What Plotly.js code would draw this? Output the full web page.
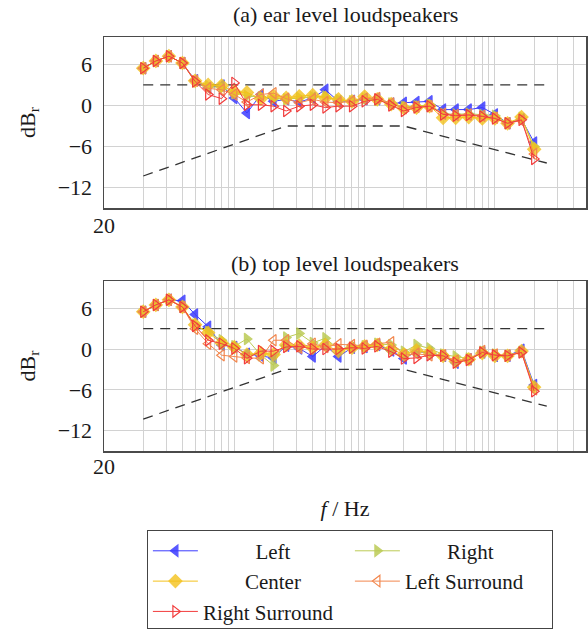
<!DOCTYPE html>
<html>
<head>
<meta charset="utf-8">
<script src="https://cdn.plot.ly/plotly-3.0.1.min.js"></script>
<style>
  html, body { margin: 0; padding: 0; background: #ffffff; }
  #chart { width: 588px; height: 631px; }
</style>
</head>
<body>
<div id="chart"></div>
<script>
// ---- data ----
const freqs = [20, 25, 31.5, 40, 50, 63, 80, 100, 125, 160, 200, 250, 315, 400, 500, 630, 800, 1000, 1250, 1600, 2000, 2500, 3150, 4000, 5000, 6300, 8000, 10000, 12500, 16000, 20000];

const seriesNames = ['Left', 'Right', 'Center', 'Left Surround', 'Right Surround'];

// (a) ear level loudspeakers
const earLeft   = [5.45, 6.5, 7.2, 6.2, 3.7, 2.6, 2.9, 1.1, -1.1, 1.6, 0.6, 0.9, 0.5, 1.1, 2.3, 0.6, 0.7, 0.9, 0.9, 0.3, 0.4, 0.5, 0.6, -0.6, -0.6, -0.6, -0.3, -1.3, -2.6, -2.0, -5.4];
const earRight  = [5.45, 6.5, 7.2, 6.2, 3.5, 2.8, 2.6, 1.8, 1.4, 1.2, 1.0, 0.9, 1.1, 1.2, 1.3, 0.8, 0.6, 1.0, 0.8, 0.3, -0.2, -0.1, 0.1, -1.2, -1.3, -1.2, -1.4, -1.5, -2.6, -1.8, -6.0];
const earCenter = [5.45, 6.5, 7.2, 6.2, 3.6, 3.0, 2.9, 2.0, 1.9, 1.0, 1.4, 1.1, 1.35, 1.5, 1.1, 0.9, 0.6, 1.3, 0.9, 0.2, -0.4, -0.3, -0.1, -1.8, -1.8, -1.7, -1.9, -1.9, -2.6, -1.7, -6.4];
const earLS     = [5.45, 6.5, 7.2, 6.2, 3.6, 2.5, 2.3, 1.6, 0.5, 1.6, 1.8, 1.0, 0.4, 0.9, 0.5, 0.4, 0.6, 1.0, 1.1, 0.3, -0.4, -0.2, -0.1, -1.2, -1.4, -1.3, -1.5, -1.8, -2.6, -2.2, -7.1];
const earRS     = [5.45, 6.5, 7.2, 6.2, 3.5, 1.6, 1.0, 3.3, 0.1, 0.1, -0.1, -0.8, -0.1, 0.1, -0.3, -0.1, -0.1, 0.6, 0.9, 0.0, -0.8, -0.3, -0.1, -1.3, -1.5, -1.4, -1.6, -1.9, -2.6, -2.1, -7.8];

// (b) top level loudspeakers
const topLeft   = [5.5, 6.5, 7.25, 7.1, 5.1, 3.3, 0.6, 0.3, -0.7, -1.0, -1.3, 0.5, 0.1, -1.1, 0.5, -1.1, 0.2, 0.3, 0.6, -0.2, -1.4, -0.4, -0.5, -1.0, -2.0, -1.5, -0.5, -1.0, -1.0, -0.1, -5.3];
const topRight  = [5.5, 6.5, 7.25, 6.2, 3.6, 2.5, 1.3, 0.4, 1.5, -0.9, -2.4, 1.7, 2.3, 0.9, 1.6, 0.0, 0.2, 0.4, 0.8, 0.6, -0.4, 0.6, 0.1, -0.8, -1.1, -1.4, -0.4, -0.8, -1.0, -0.4, -5.5];
const topCenter = [5.5, 6.5, 7.25, 6.2, 3.6, 2.4, 0.9, 0.3, -0.8, -0.6, -0.8, 0.6, 0.5, 0.2, 0.6, -0.3, 0.2, 0.4, 0.6, 0.0, -0.8, -0.2, -0.5, -1.0, -1.8, -1.5, -0.6, -1.0, -1.0, -0.3, -5.6];
const topLS     = [5.5, 6.5, 7.25, 6.2, 3.0, 0.8, -0.9, -1.1, -1.3, -1.35, 1.3, 1.3, 0.2, 0.8, 0.3, 0.7, 0.6, 0.5, 0.8, 1.0, -0.9, -0.7, -0.9, -0.9, -1.7, -1.5, -0.3, -0.8, -0.9, -0.5, -5.9];
const topRS     = [5.5, 6.5, 7.25, 6.2, 3.4, 1.3, 0.8, 0.1, -1.35, -0.3, -0.3, 0.3, 0.4, 0.0, 0.0, 0.0, 0.2, 0.1, 0.4, -0.4, -1.4, -1.3, -0.9, -1.0, -2.0, -1.6, -0.5, -0.9, -1.0, -0.5, -6.2];

// tolerance limits
const upperFreq = [20, 25000];
const upperDb   = [3, 3];
const lowerFreq = [20, 250, 2000, 25000];
const lowerDb   = [-10.3, -3, -3, -8.4];

const yTicks = [-12, -6, 0, 6];
const panelTitles = ['(a) ear level loudspeakers', '(b) top level loudspeakers'];
const firstTickLabel = '20';

// ---- styles ----
const styles = [
  { color: '#3b3bff', symbol: 'triangle-left',       opacity: 0.85 },
  { color: '#bccb55', symbol: 'triangle-right',      opacity: 0.85 },
  { color: '#f4c21c', symbol: 'diamond',             opacity: 0.8 },
  { color: '#f2874e', symbol: 'triangle-left-open',  opacity: 1 },
  { color: '#f23c3c', symbol: 'triangle-right-open', opacity: 1 }
];
const legendPad = [10, 8, 8, 0, 0]; // non-breaking spaces to centre legend text
const NB = '\u00a0';

const panels = [
  { xa: 'x',  ya: 'y',  data: [earLeft, earRight, earCenter, earLS, earRS] },
  { xa: 'x2', ya: 'y2', data: [topLeft, topRight, topCenter, topLS, topRS] }
];

const traces = [];
panels.forEach(function (p, pi) {
  traces.push({
    x: upperFreq, y: upperDb, xaxis: p.xa, yaxis: p.ya, mode: 'lines',
    line: { color: '#333333', width: 1.3, dash: '10px,7px' },
    showlegend: false, hoverinfo: 'skip'
  });
  traces.push({
    x: lowerFreq, y: lowerDb, xaxis: p.xa, yaxis: p.ya, mode: 'lines',
    line: { color: '#333333', width: 1.3, dash: '10px,7px' },
    showlegend: false, hoverinfo: 'skip'
  });
  p.data.forEach(function (vals, si) {
    const st = styles[si];
    traces.push({
      x: freqs, y: vals, xaxis: p.xa, yaxis: p.ya,
      type: 'scatter', mode: 'lines+markers',
      name: NB.repeat(legendPad[si]) + seriesNames[si],
      legendgroup: seriesNames[si],
      showlegend: pi === 0,
      line: { color: st.color, width: 1 },
      marker: { symbol: st.symbol, size: 10, color: st.color, opacity: st.opacity,
                line: { color: st.color, width: 1.2 } }
    });
  });
});

const fontFam = '"Liberation Serif", "Times New Roman", serif';
function xAxis(anchor) {
  return {
    type: 'log', range: [1, Math.log10(50000)], anchor: anchor,
    dtick: 'D1', showticklabels: false, ticks: '',
    showgrid: true, gridcolor: '#d2d2d2', gridwidth: 1,
    showline: true, mirror: true, linecolor: '#4a4a4a', linewidth: 1.5,
    zeroline: false
  };
}
function yAxis(anchor, domain) {
  return {
    anchor: anchor, domain: domain, range: [-15, 10],
    tickvals: yTicks, ticks: '', ticklabelstandoff: 6,
    showgrid: true, gridcolor: '#d2d2d2', gridwidth: 1,
    showline: true, mirror: true, linecolor: '#4a4a4a', linewidth: 1.5,
    zeroline: false,
    title: { text: 'dB<sub>r</sub>', standoff: 16, font: { size: 22 } }
  };
}

const xa1 = xAxis('y');
const xa2 = xAxis('y2');
xa2.title = { text: '<i>f</i> / Hz', standoff: 49, font: { size: 22 } };

const layout = {
  width: 588, height: 631,
  margin: { l: 104, r: 2, t: 37, b: 178 },
  paper_bgcolor: '#ffffff', plot_bgcolor: '#ffffff',
  font: { family: fontFam, size: 22, color: '#1a1a1a' },
  xaxis: xa1,
  yaxis: yAxis('x', [0.5865, 1]),
  xaxis2: xa2,
  yaxis2: yAxis('x2', [0, 0.4103]),
  showlegend: true,
  legend: {
    orientation: 'h', x: 0.089, xanchor: 'left', y: -0.19, yanchor: 'top',
    bgcolor: '#ffffff', bordercolor: '#444444', borderwidth: 1,
    entrywidth: 142, entrywidthmode: 'pixels', itemwidth: 45,
    maxheight: 99,
    traceorder: 'normal', font: { size: 21, family: fontFam }
  },
  annotations: [
    { text: panelTitles[0], xref: 'paper', x: 0.5, yref: 'y domain', y: 1, yanchor: 'bottom', yshift: 8, showarrow: false, font: { size: 22 } },
    { text: panelTitles[1], xref: 'paper', x: 0.5, yref: 'y2 domain', y: 1, yanchor: 'bottom', yshift: 3, showarrow: false, font: { size: 22 } },
    { text: firstTickLabel, xref: 'x', x: 1, yref: 'y domain', y: 0, yanchor: 'top', yshift: -3, showarrow: false, font: { size: 22 } },
    { text: firstTickLabel, xref: 'x2', x: 1, yref: 'y2 domain', y: 0, yanchor: 'top', yshift: -1, showarrow: false, font: { size: 22 } }
  ]
};

Plotly.newPlot('chart', traces, layout, { staticPlot: true, displayModeBar: false });
</script>
</body>
</html>
